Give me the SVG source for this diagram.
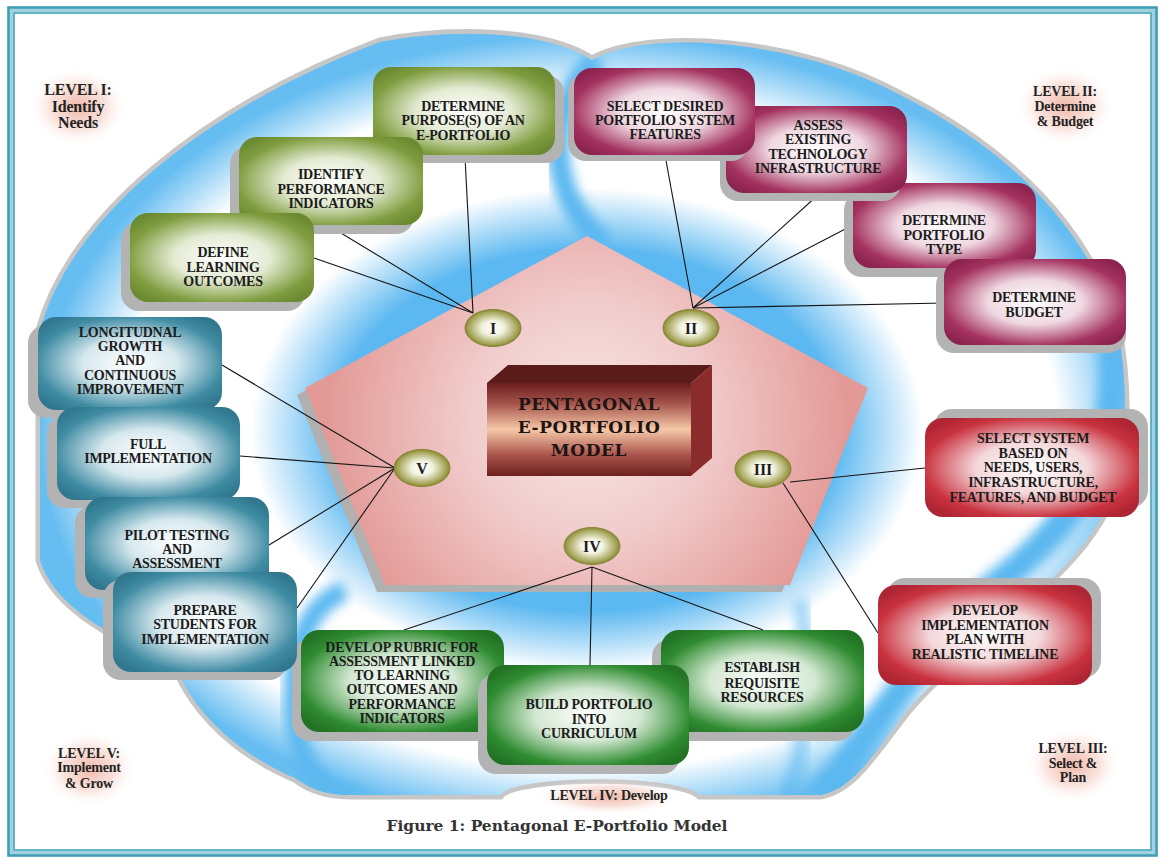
<svg xmlns="http://www.w3.org/2000/svg" width="1172" height="861" viewBox="0 0 1172 861">
<defs>
<style>
.bt{font-family:"Liberation Serif","Times New Roman",serif;font-weight:bold;font-size:14px;fill:#1c1c1c;text-anchor:middle;letter-spacing:-0.3px}
.lv{font-family:"Liberation Serif","Times New Roman",serif;font-weight:bold;font-size:14px;fill:#232323;text-anchor:middle;letter-spacing:-0.2px}
.rn{font-family:"Liberation Serif","Times New Roman",serif;font-weight:bold;font-size:16px;fill:#1c1c1c;text-anchor:middle}
.ct{font-family:"DejaVu Serif",serif;font-weight:bold;font-size:17px;fill:#1e1414;text-anchor:middle;letter-spacing:0.6px}
.cap{font-family:"DejaVu Serif",serif;font-weight:bold;font-size:14px;fill:#333333;text-anchor:middle}
.ln{stroke:#151515;stroke-width:1.1;fill:none}
.sh{fill:#b3b3b3}
.ol{fill:url(#gOl)}
.mg{fill:url(#gMg)}
.rd{fill:url(#gRd)}
.dg{fill:url(#gDg)}
.tl{fill:url(#gTl)}
.rom{fill:url(#gRom);stroke:#84842f;stroke-width:1}
.glow{fill:url(#glow)}
.seam{fill:none;stroke:#5cb8f0;filter:url(#blur)}
</style>
<radialGradient id="gOl" cx=".5" cy=".5" r=".62"><stop offset="0" stop-color="#ffffff"/><stop offset=".42" stop-color="#e4ebd3"/><stop offset=".82" stop-color="#809e40"/><stop offset="1" stop-color="#6c8a31"/></radialGradient>
<radialGradient id="gMg" cx=".5" cy=".5" r=".62"><stop offset="0" stop-color="#ffffff"/><stop offset=".42" stop-color="#efd8e1"/><stop offset=".82" stop-color="#a4325f"/><stop offset="1" stop-color="#8c244f"/></radialGradient>
<radialGradient id="gRd" cx=".5" cy=".5" r=".62"><stop offset="0" stop-color="#ffffff"/><stop offset=".42" stop-color="#f3d8da"/><stop offset=".82" stop-color="#c9323f"/><stop offset="1" stop-color="#ae2533"/></radialGradient>
<radialGradient id="gDg" cx=".5" cy=".5" r=".62"><stop offset="0" stop-color="#ffffff"/><stop offset=".42" stop-color="#d3e8d2"/><stop offset=".82" stop-color="#2f8c31"/><stop offset="1" stop-color="#237325"/></radialGradient>
<radialGradient id="gTl" cx=".5" cy=".5" r=".62"><stop offset="0" stop-color="#ffffff"/><stop offset=".42" stop-color="#d6e8ee"/><stop offset=".82" stop-color="#3f8ca3"/><stop offset="1" stop-color="#31788f"/></radialGradient>
<radialGradient id="gRom" cx=".5" cy=".5" r=".55"><stop offset="0" stop-color="#ffffff"/><stop offset=".35" stop-color="#f3f3e2"/><stop offset=".78" stop-color="#a6a65a"/><stop offset="1" stop-color="#74741f"/></radialGradient>
<radialGradient id="glow" cx=".5" cy=".5" r=".5"><stop offset="0" stop-color="#eba593" stop-opacity=".8"/><stop offset=".55" stop-color="#f3c5b8" stop-opacity=".5"/><stop offset="1" stop-color="#ffffff" stop-opacity="0"/></radialGradient>
<radialGradient id="ring" gradientUnits="userSpaceOnUse" cx="587" cy="430" r="560" gradientTransform="translate(587 430) scale(1 0.72) translate(-587 -430)"><stop offset="0" stop-color="#5cb8f0"/><stop offset=".45" stop-color="#5cb8f0"/><stop offset=".60" stop-color="#ffffff"/><stop offset=".84" stop-color="#ffffff"/><stop offset=".98" stop-color="#66bdf1"/></radialGradient>
<radialGradient id="gPent" gradientUnits="userSpaceOnUse" cx="587" cy="420" r="260"><stop offset="0" stop-color="#f7e4e4"/><stop offset=".45" stop-color="#f1cccc"/><stop offset="1" stop-color="#e39a97"/></radialGradient>
<linearGradient id="gFront" x1="0" y1="0" x2="0" y2="1"><stop offset="0" stop-color="#6b1e1e"/><stop offset=".22" stop-color="#a5544b"/><stop offset=".5" stop-color="#f6c8a7"/><stop offset=".78" stop-color="#a8524a"/><stop offset="1" stop-color="#6e2020"/></linearGradient>
<filter id="blur" x="-20%" y="-20%" width="140%" height="140%"><feGaussianBlur stdDeviation="6"/></filter>
<clipPath id="cu"><path d="M40,560 L40,330 C70,220 200,110 380,42 C450,28 545,30 592,60 C650,28 800,40 900,95 C1010,150 1090,230 1118,330 C1130,400 1125,450 1115,480 C1100,570 960,640 900,720 C870,760 850,790 820,795 L700,795 C680,774 515,774 500,795 L350,795 C320,795 305,785 295,778 C240,755 195,715 175,665 C120,640 55,610 40,560 Z"/></clipPath>
</defs>

<rect width="1172" height="861" fill="#ffffff"/>
<g id="frame" fill="none">
<rect x="11" y="10" width="1143" height="843" stroke="#9fd2de" stroke-width="7"/>
<rect x="8.5" y="7.5" width="1148" height="848" stroke="#3f9db4" stroke-width="2.5"/>
<rect x="14" y="13" width="1137" height="837" stroke="#4aa6bb" stroke-width="1.5"/>
</g>

<g id="background">
<path d="M40,560 L40,330 C70,220 200,110 380,42 C450,28 545,30 592,60 C650,28 800,40 900,95 C1010,150 1090,230 1118,330 C1130,400 1125,450 1115,480 C1100,570 960,640 900,720 C870,760 850,790 820,795 L700,795 C680,774 515,774 500,795 L350,795 C320,795 305,785 295,778 C240,755 195,715 175,665 C120,640 55,610 40,560 Z" fill="url(#ring)" stroke="#c6c6c6" stroke-width="9" paint-order="stroke"/>
<g clip-path="url(#cu)">
<path class="seam" stroke-width="22" d="M598,58 C548,100 540,190 605,245"/>
<path class="seam" stroke-width="28" d="M1112,340 C1122,450 1080,520 995,585 C930,640 880,720 818,800"/>
<path class="seam" stroke-width="20" d="M345,590 C300,610 292,660 294,705 C296,760 318,796 360,798"/>
<path class="seam" stroke-width="14" opacity=".6" d="M800,600 C812,680 805,760 785,800"/>
</g>
</g>

<g id="pentagon">
<polygon points="579,243 860,395 782,592 377,592 297,395" fill="#b0b0b0"/>
<polygon points="587,236 868,388 790,585 385,585 305,388" fill="url(#gPent)"/>
</g>

<g id="center-box">
<polygon points="487,383 508,365 712,365 691,383" fill="#5c1b1b"/>
<polygon points="691,383 712,365 712,458 691,476" fill="#8a2c2c"/>
<rect x="487" y="383" width="204" height="93" fill="url(#gFront)"/>
<text class="ct"><tspan x="589" y="410">PENTAGONAL</tspan><tspan x="589" y="433">E-PORTFOLIO</tspan><tspan x="589" y="456">MODEL</tspan></text>
</g>

<g id="connectors">
<line class="ln" x1="465" y1="157" x2="473" y2="313"/>
<line class="ln" x1="331" y1="227" x2="473" y2="313"/>
<line class="ln" x1="314" y1="258" x2="473" y2="313"/>
<line class="ln" x1="665" y1="155" x2="693" y2="308"/>
<line class="ln" x1="818" y1="195" x2="693" y2="308"/>
<line class="ln" x1="853" y1="225" x2="693" y2="308"/>
<line class="ln" x1="945" y1="303" x2="693" y2="308"/>
<line class="ln" x1="790" y1="482" x2="925" y2="468"/>
<line class="ln" x1="783" y1="483" x2="878" y2="633"/>
<line class="ln" x1="592" y1="567" x2="404" y2="630"/>
<line class="ln" x1="592" y1="567" x2="590" y2="665"/>
<line class="ln" x1="592" y1="567" x2="763" y2="630"/>
<line class="ln" x1="395" y1="468" x2="222" y2="365"/>
<line class="ln" x1="395" y1="468" x2="240" y2="456"/>
<line class="ln" x1="395" y1="468" x2="269" y2="545"/>
<line class="ln" x1="395" y1="468" x2="297" y2="608"/>
</g>

<g id="level-I-marker"><ellipse class="rom" cx="493" cy="328" rx="28" ry="18.5"/><text class="rn" x="493" y="334">I</text></g>
<g id="level-II-marker"><ellipse class="rom" cx="691" cy="328" rx="28" ry="18.5"/><text class="rn" x="691" y="334">II</text></g>
<g id="level-III-marker"><ellipse class="rom" cx="763" cy="469" rx="28" ry="18.5"/><text class="rn" x="763" y="475">III</text></g>
<g id="level-IV-marker"><ellipse class="rom" cx="592" cy="546" rx="28" ry="18.5"/><text class="rn" x="592" y="552">IV</text></g>
<g id="level-V-marker"><ellipse class="rom" cx="422" cy="468" rx="28" ry="18.5"/><text class="rn" x="422" y="474">V</text></g>

<!-- Level I -->
<g id="n-purpose"><rect class="sh" x="382" y="75" width="182" height="88" rx="18"/><rect class="ol" x="373" y="67" width="182" height="88" rx="18"/>
<text class="bt"><tspan x="463" y="111">DETERMINE</tspan><tspan x="463" y="125">PURPOSE(S) OF AN</tspan><tspan x="463" y="140">E-PORTFOLIO</tspan></text></g>
<g id="n-indicators"><rect class="sh" x="230" y="146" width="184" height="88" rx="18"/><rect class="ol" x="239" y="137" width="184" height="88" rx="18"/>
<text class="bt"><tspan x="331" y="179">IDENTIFY</tspan><tspan x="331" y="194">PERFORMANCE</tspan><tspan x="331" y="208">INDICATORS</tspan></text></g>
<g id="n-outcomes"><rect class="sh" x="121" y="222" width="184" height="89" rx="18"/><rect class="ol" x="130" y="213" width="184" height="89" rx="18"/>
<text class="bt"><tspan x="223" y="257">DEFINE</tspan><tspan x="223" y="272">LEARNING</tspan><tspan x="223" y="286">OUTCOMES</tspan></text></g>

<!-- Level II -->
<g id="n-type"><rect class="sh" x="844" y="192" width="183" height="85" rx="18"/><rect class="mg" x="853" y="183" width="183" height="85" rx="18"/>
<text class="bt"><tspan x="944" y="225">DETERMINE</tspan><tspan x="944" y="240">PORTFOLIO</tspan><tspan x="944" y="254">TYPE</tspan></text></g>
<g id="n-assess"><rect class="sh" x="720" y="114" width="181" height="87" rx="18"/><rect class="mg" x="726" y="106" width="181" height="87" rx="18"/>
<text class="bt"><tspan x="818" y="130">ASSESS</tspan><tspan x="818" y="144">EXISTING</tspan><tspan x="818" y="159">TECHNOLOGY</tspan><tspan x="818" y="173">INFRASTRUCTURE</tspan></text></g>
<g id="n-features"><rect class="sh" x="568" y="74" width="181" height="87" rx="18"/><rect class="mg" x="574" y="68" width="181" height="87" rx="18"/>
<text class="bt"><tspan x="665" y="111">SELECT DESIRED</tspan><tspan x="665" y="125">PORTFOLIO SYSTEM</tspan><tspan x="665" y="139">FEATURES</tspan></text></g>
<g id="n-budget"><rect class="sh" x="936" y="267" width="190" height="86" rx="18"/><rect class="mg" x="944" y="259" width="182" height="86" rx="18"/>
<text class="bt"><tspan x="1034" y="302">DETERMINE</tspan><tspan x="1034" y="317">BUDGET</tspan></text></g>

<!-- Level III -->
<g id="n-select-system"><rect class="sh" x="934" y="409" width="214" height="99" rx="18"/><rect class="rd" x="925" y="418" width="214" height="99" rx="18"/>
<text class="bt"><tspan x="1033" y="443">SELECT SYSTEM</tspan><tspan x="1033" y="458">BASED ON</tspan><tspan x="1033" y="472">NEEDS, USERS,</tspan><tspan x="1033" y="487">INFRASTRUCTURE,</tspan><tspan x="1033" y="502">FEATURES, AND BUDGET</tspan></text></g>
<g id="n-plan"><rect class="sh" x="887" y="578" width="214" height="100" rx="18"/><rect class="rd" x="878" y="585" width="214" height="100" rx="18"/>
<text class="bt"><tspan x="985" y="615">DEVELOP</tspan><tspan x="985" y="630">IMPLEMENTATION</tspan><tspan x="985" y="644">PLAN WITH</tspan><tspan x="985" y="659">REALISTIC TIMELINE</tspan></text></g>

<!-- Level IV -->
<g id="n-rubric"><rect class="sh" x="292" y="639" width="203" height="102" rx="18"/><rect class="dg" x="301" y="630" width="203" height="102" rx="18"/>
<text class="bt"><tspan x="402" y="652">DEVELOP RUBRIC FOR</tspan><tspan x="402" y="666">ASSESSMENT LINKED</tspan><tspan x="402" y="680">TO LEARNING</tspan><tspan x="402" y="694">OUTCOMES AND</tspan><tspan x="402" y="709">PERFORMANCE</tspan><tspan x="402" y="723">INDICATORS</tspan></text></g>
<g id="n-resources"><rect class="sh" x="652" y="639" width="203" height="102" rx="18"/><rect class="dg" x="661" y="630" width="203" height="102" rx="18"/>
<text class="bt"><tspan x="762" y="672">ESTABLISH</tspan><tspan x="762" y="688">REQUISITE</tspan><tspan x="762" y="702">RESOURCES</tspan></text></g>
<g id="n-curriculum"><rect class="sh" x="478" y="674" width="202" height="100" rx="18"/><rect class="dg" x="487" y="665" width="202" height="100" rx="18"/>
<text class="bt"><tspan x="589" y="709">BUILD PORTFOLIO</tspan><tspan x="589" y="724">INTO</tspan><tspan x="589" y="738">CURRICULUM</tspan></text></g>

<!-- Level V -->
<g id="n-growth"><rect class="sh" x="28" y="325" width="184" height="93" rx="18"/><rect class="tl" x="38" y="317" width="184" height="93" rx="18"/>
<text class="bt"><tspan x="130" y="337">LONGITUDNAL</tspan><tspan x="130" y="351">GROWTH</tspan><tspan x="130" y="365">AND</tspan><tspan x="130" y="380">CONTINUOUS</tspan><tspan x="130" y="394">IMPROVEMENT</tspan></text></g>
<g id="n-full"><rect class="sh" x="47" y="415" width="183" height="93" rx="18"/><rect class="tl" x="57" y="407" width="183" height="93" rx="18"/>
<text class="bt"><tspan x="148" y="449">FULL</tspan><tspan x="148" y="463">IMPLEMENTATION</tspan></text></g>
<g id="n-pilot"><rect class="sh" x="75" y="505" width="184" height="93" rx="18"/><rect class="tl" x="85" y="497" width="184" height="93" rx="18"/>
<text class="bt"><tspan x="177" y="540">PILOT TESTING</tspan><tspan x="177" y="554">AND</tspan><tspan x="177" y="568">ASSESSMENT</tspan></text></g>
<g id="n-prepare"><rect class="sh" x="103" y="580" width="184" height="100" rx="18"/><rect class="tl" x="113" y="572" width="184" height="100" rx="18"/>
<text class="bt"><tspan x="205" y="615">PREPARE</tspan><tspan x="205" y="629">STUDENTS FOR</tspan><tspan x="205" y="644">IMPLEMENTATION</tspan></text></g>

<!-- Level labels -->
<g id="label-level-I"><ellipse class="glow" cx="78" cy="107" rx="50" ry="40"/><text class="lv" style="font-size:16px"><tspan x="78" y="95">LEVEL I:</tspan><tspan x="78" y="112">Identify</tspan><tspan x="78" y="128">Needs</tspan></text></g>
<g id="label-level-II"><ellipse class="glow" cx="1065" cy="106" rx="50" ry="40"/><text class="lv"><tspan x="1065" y="96">LEVEL II:</tspan><tspan x="1065" y="111">Determine</tspan><tspan x="1065" y="126">&amp; Budget</tspan></text></g>
<g id="label-level-III"><ellipse class="glow" cx="1073" cy="765" rx="48" ry="38"/><text class="lv"><tspan x="1073" y="753">LEVEL III:</tspan><tspan x="1073" y="768">Select &amp;</tspan><tspan x="1073" y="782">Plan</tspan></text></g>
<g id="label-level-IV"><ellipse class="glow" cx="609" cy="797" rx="75" ry="18"/><text class="lv" x="609" y="800">LEVEL IV: Develop</text></g>
<g id="label-level-V"><ellipse class="glow" cx="89" cy="769" rx="48" ry="38"/><text class="lv"><tspan x="89" y="758">LEVEL V:</tspan><tspan x="89" y="772">Implement</tspan><tspan x="89" y="788">&amp; Grow</tspan></text></g>

<text id="caption" class="cap" x="557" y="831" textLength="341" lengthAdjust="spacingAndGlyphs">Figure 1: Pentagonal E-Portfolio Model</text>
</svg>
